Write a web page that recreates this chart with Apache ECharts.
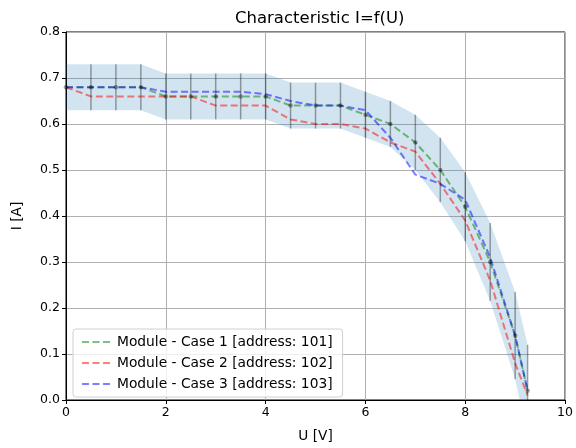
<!DOCTYPE html>
<html>
<head>
<meta charset="utf-8">
<script src="https://cdn.jsdelivr.net/npm/echarts@6/dist/echarts.min.js"></script>
<style>
html,body{margin:0;padding:0;background:#fff;}
#chart{width:576px;height:448px;}
</style>
</head>
<body>
<div id="chart"></div>
<script>
// ---- data ----
var U = [0, 0.5, 1, 1.5, 2, 2.5, 3, 3.5, 4, 4.5, 5, 5.5, 6, 6.5, 7, 7.5, 8, 8.5, 9, 9.25];
var case1 = [0.68, 0.68, 0.68, 0.68, 0.66, 0.66, 0.66, 0.66, 0.66, 0.64, 0.64, 0.64, 0.62, 0.60, 0.56, 0.50, 0.42, 0.30, 0.14, 0.02];
var case2 = [0.68, 0.66, 0.66, 0.66, 0.66, 0.66, 0.64, 0.64, 0.64, 0.61, 0.60, 0.60, 0.59, 0.56, 0.54, 0.47, 0.39, 0.26, 0.08, 0.01];
var case3 = [0.68, 0.68, 0.68, 0.68, 0.67, 0.67, 0.67, 0.67, 0.665, 0.65, 0.64, 0.64, 0.63, 0.57, 0.49, 0.47, 0.435, 0.31, 0.14, 0.02];
var err = [0.05, 0.05, 0.05, 0.05, 0.05, 0.05, 0.05, 0.05, 0.05, 0.05, 0.05, 0.05, 0.05, 0.05, 0.06, 0.07, 0.075, 0.085, 0.095, 0.10];
var names = ['Module - Case 1 [address: 101]', 'Module - Case 2 [address: 102]', 'Module - Case 3 [address: 103]'];
var xTicks = [0, 2, 4, 6, 8, 10];
var yTicks = [0, 0.1, 0.2, 0.3, 0.4, 0.5, 0.6, 0.7, 0.8];

function pairs(ys) { return U.map(function (u, i) { return [u, ys[i]]; }); }

var FONT = 'DejaVu Sans';
var chart = echarts.init(document.getElementById('chart'), null, {renderer: 'canvas'});

function lineSeries(name, ys, color) {
  return {
    name: name, type: 'line', data: pairs(ys), symbol: 'none', z: 3,
    lineStyle: {color: color, width: 2, type: [7, 3.5]},
    itemStyle: {color: color}
  };
}

var option = {
  animation: false,
  backgroundColor: '#fff',
  textStyle: {fontFamily: FONT},
  title: {
    text: 'Characteristic I=f(U)', left: 230, top: 5,
    textStyle: {fontFamily: FONT, fontSize: 16.5, fontWeight: 'normal', color: '#000'}
  },
  grid: {left: 66, right: 10, top: 32, bottom: 45, show: true, borderColor: '#000', borderWidth: 1, backgroundColor: 'transparent'},
  xAxis: {
    type: 'value', min: xTicks[0], max: xTicks[xTicks.length - 1], interval: 2,
    name: 'U [V]', nameLocation: 'middle', nameGap: 29,
    nameTextStyle: {fontFamily: FONT, fontSize: 13.7, color: '#000'},
    axisLine: {show: true, lineStyle: {color: '#000', width: 1}},
    axisTick: {show: true, length: 4, lineStyle: {color: '#000'}},
    axisLabel: {fontFamily: FONT, fontSize: 12.5, color: '#000', margin: 6},
    splitLine: {show: true, lineStyle: {color: '#b0b0b0', width: 1}}
  },
  yAxis: {
    type: 'value', min: yTicks[0], max: yTicks[yTicks.length - 1], interval: 0.1,
    name: 'I [A]', nameLocation: 'middle', nameGap: 42, nameRotate: 90,
    nameTextStyle: {fontFamily: FONT, fontSize: 13.7, color: '#000'},
    axisLine: {show: true, lineStyle: {color: '#000', width: 1}},
    axisTick: {show: true, length: 4, lineStyle: {color: '#000'}},
    axisLabel: {fontFamily: FONT, fontSize: 12.5, color: '#000', margin: 6,
      formatter: function (v) { return v.toFixed(1); }},
    splitLine: {show: true, lineStyle: {color: '#b0b0b0', width: 1}}
  },
  legend: {
    orient: 'vertical', left: 73, top: 329,
    data: names,
    itemWidth: 30, itemHeight: 14, itemGap: 7,
    padding: [6, 10, 6, 8],
    itemStyle: {opacity: 0},
    backgroundColor: 'rgba(255,255,255,0.8)', borderColor: '#d0d0d0', borderWidth: 1, borderRadius: 3,
    textStyle: {fontFamily: FONT, fontSize: 13.8, color: '#000'}
  },
  series: [
    {
      name: 'band', type: 'custom', z: 1, silent: true,
      data: [0],
      renderItem: function (params, api) {
        var pts = [];
        for (var i = 0; i < U.length; i++) pts.push(api.coord([U[i], case1[i] + err[i]]));
        for (var j = U.length - 1; j >= 0; j--) pts.push(api.coord([U[j], case1[j] - err[j]]));
        var cs = params.coordSys;
        return {
          type: 'group',
          clipPath: {type: 'rect', shape: {x: cs.x, y: cs.y, width: cs.width, height: cs.height}},
          children: [{type: 'polygon', shape: {points: pts}, style: {fill: 'rgba(31,119,180,0.2)', stroke: null}}]
        };
      }
    },
    lineSeries(names[0], case1, 'rgba(0,128,0,0.5)'),
    lineSeries(names[1], case2, 'rgba(255,0,0,0.5)'),
    lineSeries(names[2], case3, 'rgba(0,0,255,0.5)'),
    {
      name: 'errbars', type: 'custom', z: 4, silent: true, clip: true,
      data: U.map(function (u, i) { return [u, case1[i], err[i]]; }),
      renderItem: function (params, api) {
        var x = api.value(0), y = api.value(1), e = api.value(2);
        var top = api.coord([x, y + e]);
        var bot = api.coord([x, y - e]);
        var cs = params.coordSys;
        return {
          type: 'group',
          clipPath: {type: 'rect', shape: {x: cs.x, y: cs.y, width: cs.width, height: cs.height}},
          children: [{type: 'line', shape: {x1: top[0], y1: top[1], x2: bot[0], y2: bot[1]},
            style: {stroke: 'rgba(0,0,0,0.35)', lineWidth: 1.5}}]
        };
      }
    },
    {
      name: 'points', type: 'scatter', z: 5, silent: true,
      data: pairs(case1), symbol: 'circle', symbolSize: 4.5,
      itemStyle: {color: 'rgba(0,0,0,0.45)'}
    }
  ]
};
chart.setOption(option);
</script>
</body>
</html>
